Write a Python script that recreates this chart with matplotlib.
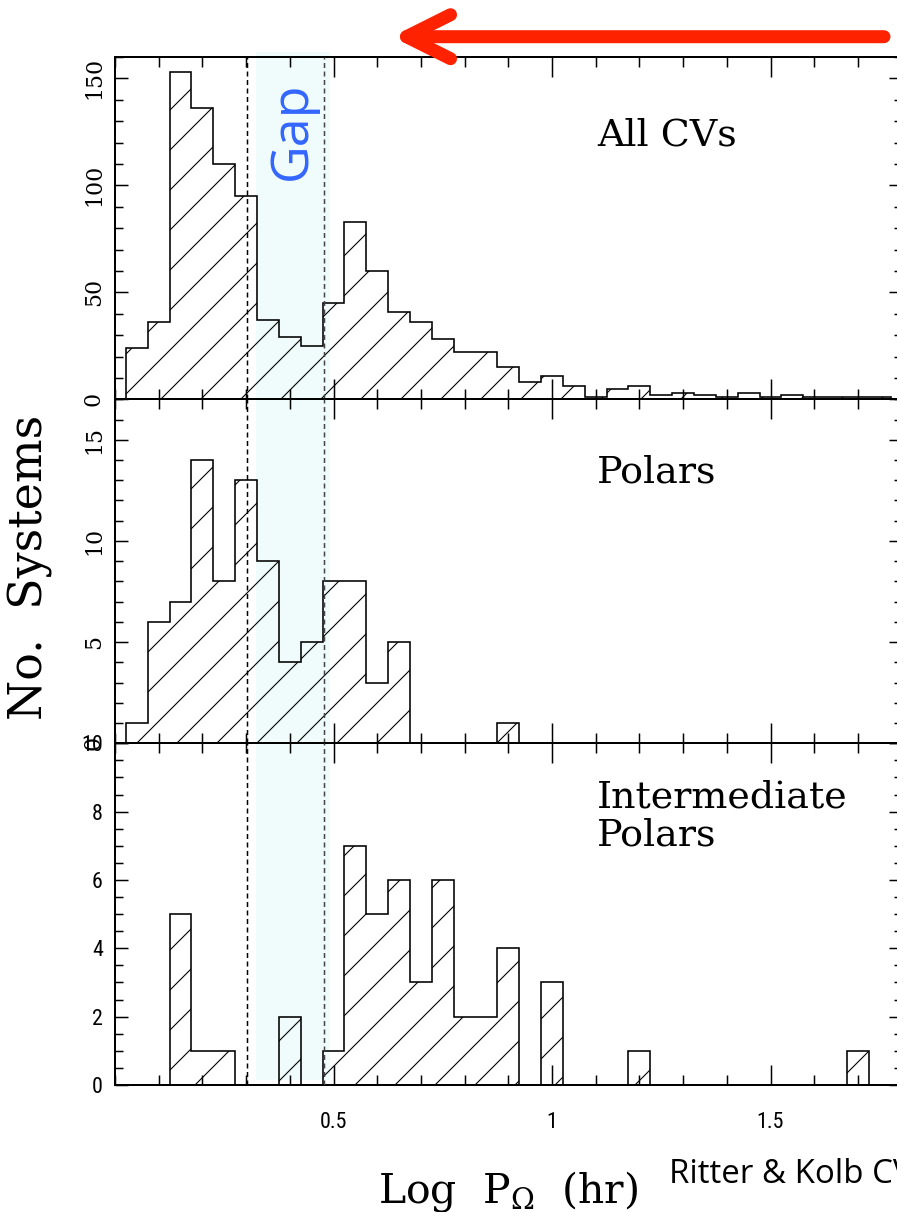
import numpy as np
import matplotlib
matplotlib.use("Agg")
import matplotlib.pyplot as plt
import matplotlib.transforms as mtransforms
from matplotlib.patches import Rectangle, FancyArrowPatch, ArrowStyle
from matplotlib.ticker import MultipleLocator
from matplotlib import font_manager as fm

# ---------------- data ----------------
bin_start = 0.025
bin_width = 0.05
all_cvs = [24, 36, 153, 136, 110, 95, 37, 29, 25, 45, 83, 60, 41, 36, 28,
           22, 22, 15, 8, 11, 6, 1, 5, 6, 2, 3, 2, 1, 3, 1, 2, 1, 1, 1, 1]
polars = [1, 6, 7, 14, 8, 13, 9, 4, 5, 8, 8, 3, 5, 0, 0,
          0, 0, 1, 0, 0, 0, 0, 0, 0, 0, 0, 0, 0, 0, 0, 0, 0, 0, 0, 0]
int_polars = [0, 0, 5, 1, 1, 0, 0, 2, 0, 1, 7, 5, 6, 3, 6,
              2, 2, 4, 0, 3, 0, 0, 0, 1, 0, 0, 0, 0, 0, 0, 0, 0, 0, 1, 0]
panel_titles = ["All CVs", "Polars", "Intermediate\nPolars"]
y_limits = [160, 17, 10]
y_major_ticks = [[0, 50, 100, 150], [0, 5, 10, 15], [0, 2, 4, 6, 8, 10]]
y_tick_labels = [["0", "50", "100", "150"], ["0", "5", "10", "15"],
                 ["0", "2", "4", "6", "8", "10"]]
y_minor_step = [10, 1, 0.5]
x_limits = (0.0, 1.8)
x_major_ticks = [0.5, 1.0, 1.5]
x_tick_labels = ["0.5", "1", "1.5"]
gap_lines_hr = [2.0, 3.0]        # period-gap edges (hours)
gap_shade_hr = [2.1, 3.1]

# ---------------- setup ----------------
W, H, DPI = 897, 1212, 240
PT = 72.0 / DPI   # points per pixel


def pick(*names):
    for n in names:
        try:
            fm.findfont(fm.FontProperties(family=n), fallback_to_default=False)
            return n
        except Exception:
            pass
    return "DejaVu Sans"


SERIF = "DejaVu Serif"
NARROW = pick("Liberation Sans Narrow", "Roboto Condensed", "Liberation Sans")
CALIBRI = pick("Open Sans", "Lato", "Liberation Sans")

plt.rcParams["hatch.linewidth"] = 1.1 * PT
plt.rcParams["lines.scale_dashes"] = False
plt.rcParams["mathtext.fontset"] = "dejavuserif"
plt.rcParams["font.family"] = SERIF

fig = plt.figure(figsize=(W / DPI, H / DPI), dpi=DPI)
fig.patch.set_facecolor("white")

left_px, right_px = 115, 901.6
tops = [57, 399.3, 743.3]
bottoms = [399.3, 743.3, 1085]


def px_rect(l, t, r, b):
    return [l / W, 1 - b / H, (r - l) / W, (b - t) / H]


series = [all_cvs, polars, int_polars]
edges = bin_start + bin_width * np.arange(len(all_cvs) + 1)
axes = []
for i in range(3):
    ax = fig.add_axes(px_rect(left_px, tops[i], right_px, bottoms[i]))
    ax.set_facecolor("none")
    axes.append(ax)
    ax.stairs(series[i], edges, baseline=0, fill=True, facecolor="none",
              edgecolor="black", hatch="//", linewidth=1.6 * PT, zorder=2)
    ax.set_xlim(*x_limits)
    ax.set_ylim(0, y_limits[i])
    for s in ax.spines.values():
        s.set_linewidth(2.0 * PT)
    ax.xaxis.set_minor_locator(MultipleLocator(0.1))
    ax.yaxis.set_minor_locator(MultipleLocator(y_minor_step[i]))
    ax.tick_params(which="both", direction="in", top=True, right=True,
                   width=1.5 * PT, color="black")
    ax.tick_params(axis="x", which="major", length=20 * PT)
    ax.tick_params(axis="x", which="minor", length=10 * PT)
    ax.tick_params(axis="y", which="major", length=13 * PT)
    ax.tick_params(axis="y", which="minor", length=8 * PT)
    if i < 2:
        ax.set_yticks(y_major_ticks[i], labels=y_tick_labels[i], rotation=90,
                      va="center", fontfamily=SERIF, fontsize=22 * PT)
        ax.tick_params(axis="y", pad=10 * PT)
        ax.set_xticks(x_major_ticks, labels=[])
    else:
        ax.set_yticks(y_major_ticks[i], labels=y_tick_labels[i],
                      fontfamily=NARROW, fontsize=22 * PT)
        ax.tick_params(axis="y", pad=12 * PT)
        ax.set_xticks(x_major_ticks, labels=x_tick_labels,
                      fontfamily=NARROW, fontsize=22 * PT)
        ax.tick_params(axis="x", pad=27 * PT)
    for k, hr in enumerate(gap_lines_hr):
        ax.axvline(np.log10(hr), color="black" if k == 0 else "#444444",
                   linewidth=1.5 * PT, dashes=(5 * PT, 3.5 * PT), zorder=3)

# panel titles (axes coords)
TITLE_PX = 38
axes[0].text(0.613, 0.740, panel_titles[0], transform=axes[0].transAxes,
             fontsize=TITLE_PX * PT, va="baseline", ha="left", family=SERIF)
axes[1].text(0.613, 0.757, panel_titles[1], transform=axes[1].transAxes,
             fontsize=TITLE_PX * PT, va="baseline", ha="left", family=SERIF)
axes[2].text(0.613, 0.8926, panel_titles[2], transform=axes[2].transAxes,
             fontsize=TITLE_PX * PT, va="top", ha="left", family=SERIF,
             linespacing=1.05)

# gap shading spanning all panels
blend = mtransforms.blended_transform_factory(axes[2].transData, fig.transFigure)
g0, g1 = np.log10(gap_shade_hr[0]), np.log10(gap_shade_hr[1])
fig.add_artist(Rectangle((g0, 1 - 1080 / H), g1 - g0, (1080 - 52) / H,
                         transform=blend, facecolor="#effcfb",
                         edgecolor="none", zorder=-1))
fig.text((g0 + g1) / 2, 1 - 131 / H, "Gap", transform=blend, rotation=90,
         ha="center", va="center", color="#3366ff", fontsize=52 * PT,
         family=CALIBRI)

# axis labels
fig.text(30 / W, 1 - 567 / H, "No.  Systems", rotation=90, ha="center",
         va="center", fontsize=46 * PT, family=SERIF)
fig.text(507.5 / W, 1 - 1203 / H, r"Log  P$_{\Omega}$  (hr)", ha="center",
         va="baseline", fontsize=41 * PT, family=SERIF)
fig.text(669 / W, 1 - 1183 / H, "Ritter & Kolb CV catalogue", ha="left",
         va="baseline", fontsize=33 * PT, family=CALIBRI)

# red arrow
arrow = FancyArrowPatch((884 / W, 1 - 36.7 / H), (392 / W, 1 - 36.7 / H),
                        transform=fig.transFigure,
                        arrowstyle=ArrowStyle("->", head_length=44 * PT,
                                              head_width=22 * PT),
                        color="#ff2200", linewidth=13 * PT,
                        capstyle="round", joinstyle="round",
                        shrinkA=0, shrinkB=0, mutation_scale=1)
fig.add_artist(arrow)

fig.savefig("out.png", dpi=DPI)
